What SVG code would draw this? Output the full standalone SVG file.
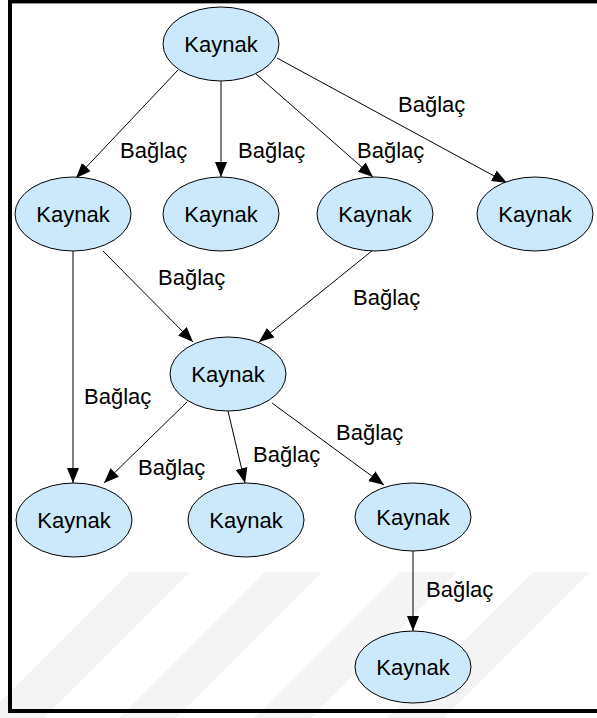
<svg xmlns="http://www.w3.org/2000/svg" width="597" height="718" viewBox="0 0 597 718">
<style>
.node ellipse{fill:#cce9fb;stroke:#000;stroke-width:1}
.node text{font-family:"Liberation Sans",Arial,sans-serif;font-size:22px;fill:#000;text-anchor:middle}
.edge line{stroke:#000;stroke-width:1;marker-end:url(#arr)}
.lbl{font-family:"Liberation Sans",Arial,sans-serif;font-size:22px;fill:#000}
.wm{fill:#f4f4f4}
</style>
<defs>
<marker id="arr" markerUnits="userSpaceOnUse" markerWidth="15" markerHeight="12" refX="15" refY="6" orient="auto">
<path d="M0,0 L15,6 L0,12 z" fill="#000"/>
</marker>
</defs>
<rect width="597" height="718" fill="#fff"/>
<g id="watermark">
<polygon class="wm" points="130,572 190,572 44,718 -16,718"/>
<polygon class="wm" points="265,572 322,572 176,718 119,718"/>
<polygon class="wm" points="400,572 457,572 311,718 254,718"/>
<polygon class="wm" points="533,572 590,572 444,718 387,718"/>
</g>
<g id="frame">
<rect x="8" y="0" width="589" height="3" fill="#000"/>
<rect x="12" y="3" width="585" height="1" fill="#999"/>
<rect x="8" y="0" width="4" height="713" fill="#000"/>
<rect x="8" y="709" width="589" height="4" fill="#000"/>
</g>
<g id="connectors" class="edge">
<line x1="178" y1="70" x2="76" y2="178"/>
<line x1="221" y1="81" x2="221" y2="177"/>
<line x1="256" y1="74" x2="373" y2="177"/>
<line x1="277" y1="58" x2="507" y2="183"/>
<line x1="103" y1="251" x2="193" y2="342"/>
<line x1="373" y1="250" x2="259" y2="342"/>
<line x1="73" y1="251" x2="73" y2="483"/>
<line x1="187" y1="402" x2="104" y2="483"/>
<line x1="228" y1="411" x2="245" y2="483"/>
<line x1="272" y1="403" x2="384" y2="485"/>
<line x1="413" y1="551" x2="413" y2="631"/>
</g>
<g id="labels">
<text class="lbl" x="120" y="158">Bağlaç</text>
<text class="lbl" x="238" y="158">Bağlaç</text>
<text class="lbl" x="357" y="158">Bağlaç</text>
<text class="lbl" x="398" y="112">Bağlaç</text>
<text class="lbl" x="158" y="285">Bağlaç</text>
<text class="lbl" x="353" y="305">Bağlaç</text>
<text class="lbl" x="84" y="404">Bağlaç</text>
<text class="lbl" x="138" y="475">Bağlaç</text>
<text class="lbl" x="253" y="462">Bağlaç</text>
<text class="lbl" x="336" y="440">Bağlaç</text>
<text class="lbl" x="426" y="597">Bağlaç</text>
</g>
<g id="n1" class="node"><ellipse cx="221" cy="44" rx="58" ry="37"/><text x="221" y="52">Kaynak</text></g>
<g id="n2" class="node"><ellipse cx="73" cy="214" rx="58" ry="37"/><text x="73" y="222">Kaynak</text></g>
<g id="n3" class="node"><ellipse cx="221" cy="214" rx="58" ry="37"/><text x="221" y="222">Kaynak</text></g>
<g id="n4" class="node"><ellipse cx="375" cy="214" rx="58" ry="37"/><text x="375" y="222">Kaynak</text></g>
<g id="n5" class="node"><ellipse cx="535" cy="214" rx="58" ry="37"/><text x="535" y="222">Kaynak</text></g>
<g id="n6" class="node"><ellipse cx="228" cy="374" rx="58" ry="37"/><text x="228" y="382">Kaynak</text></g>
<g id="n7" class="node"><ellipse cx="74" cy="520" rx="58" ry="37"/><text x="74" y="528">Kaynak</text></g>
<g id="n8" class="node"><ellipse cx="246" cy="520" rx="58" ry="37"/><text x="246" y="528">Kaynak</text></g>
<g id="n9" class="node"><ellipse cx="413" cy="517" rx="58" ry="34"/><text x="413" y="525">Kaynak</text></g>
<g id="n10" class="node"><ellipse cx="413" cy="667" rx="58" ry="36"/><text x="413" y="675">Kaynak</text></g>
</svg>
